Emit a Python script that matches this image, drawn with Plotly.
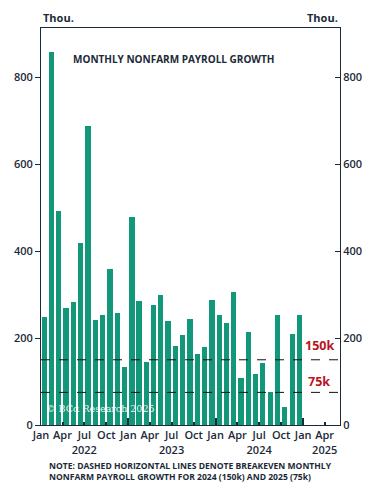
import plotly.graph_objects as go

months = [f"{y}-{m:02d}-01" for y in (2022, 2023, 2024) for m in range(1, 13)]
payrolls = [
    249, 858, 492, 270, 284, 418, 687, 241, 253, 359, 257, 134,   # 2022
    479, 285, 146, 276, 300, 239, 182, 208, 244, 163, 180, 287,   # 2023
    254, 234, 307, 107, 213, 117, 142, 77, 253, 41, 210, 254,     # 2024
]
breakevens = [150, 75]
breakeven_labels = ["150k", "75k"]
tick_dates = [f"{y}-{m:02d}-01" for y in (2022, 2023, 2024, 2025) for m in (1, 4, 7, 10)][:14]
tick_months = ["Jan", "Apr", "Jul", "Oct"] * 3 + ["Jan", "Apr"]
tick_years = ["", "", "2022", "", "", "", "2023", "", "", "", "2024", "", "", "2025"]
y_ticks = [0, 200, 400, 600, 800]

DARK = "#1b2a38"
GREEN = "#12977a"
RED = "#b8141d"
FONT = "Open Sans"
X_RANGE = ["2022-01-01", "2025-06-04"]
Y_RANGE = [0, 913]
MONTH_MS = 30.44 * 86400000

fig = go.Figure()
fig.add_trace(go.Bar(
    x=months, y=payrolls, xperiod="M1", xperiodalignment="middle",
    width=[0.72 * MONTH_MS] * len(months),
    marker=dict(color=GREEN, line=dict(width=0)), showlegend=False,
    hoverinfo="x+y",
))
# helper invisible traces so overlay axes are drawn
fig.add_trace(go.Scatter(x=[months[0]], y=[0], yaxis="y2", mode="markers",
                         marker=dict(opacity=0), showlegend=False, hoverinfo="skip"))
fig.add_trace(go.Scatter(x=[months[0]], y=[0], xaxis="x2", mode="markers",
                         marker=dict(opacity=0), showlegend=False, hoverinfo="skip"))

for v in breakevens:
    fig.add_shape(type="line", xref="paper", x0=0, x1=1, yref="y", y0=v, y1=v,
                  line=dict(color="#111111", width=1, dash="dash"), layer="above")

ann = []
for v, t, yy in zip(breakevens, breakeven_labels, [183, 101]):
    ann.append(dict(text=f"<b>{t}</b>", xref="paper", x=0.93, xanchor="center",
                    yref="y", y=yy, yanchor="middle", showarrow=False,
                    font=dict(family=FONT, size=12.5, color=RED)))
ann.append(dict(text="<b>MONTHLY NONFARM PAYROLL GROWTH</b>", xref="paper", x=0.1,
                xanchor="left", yref="paper", y=0.922, yanchor="middle", showarrow=False,
                font=dict(family=FONT, size=10, color=DARK)))
ann.append(dict(text="<b>Thou.</b>", xref="paper", x=0, xanchor="left", yref="paper",
                y=1.027, yanchor="middle", showarrow=False,
                font=dict(family=FONT, size=11, color=DARK)))
ann.append(dict(text="<b>Thou.</b>", xref="paper", x=1, xanchor="right", yref="paper",
                y=1.027, yanchor="middle", showarrow=False,
                font=dict(family=FONT, size=11, color=DARK)))
ann.append(dict(text="© BCα Research 2025", xref="paper", x=0.198, xanchor="center",
                yref="y", y=39, yanchor="middle", showarrow=False,
                font=dict(family="DejaVu Serif", size=9.5, color="rgba(255,255,255,0.92)")))
ann.append(dict(text="<b>NOTE: DASHED HORIZONTAL LINES DENOTE BREAKEVEN MONTHLY<br>"
                     "NONFARM PAYROLL GROWTH FOR 2024 (150k) AND 2025 (75k)</b>",
                xref="paper", x=0.019, xanchor="left", yref="paper", y=-0.118,
                yanchor="middle", align="left", showarrow=False,
                font=dict(family=FONT, size=8.55, color=DARK)))

axis_font = dict(family=FONT, size=11, color=DARK, weight=600)
fig.update_layout(
    width=372, height=490,
    margin=dict(l=33.3, r=40, t=20, b=73, autoexpand=False),
    paper_bgcolor="white", plot_bgcolor="white",
    bargap=0,
    xaxis=dict(type="date", range=X_RANGE, tickvals=tick_dates,
               ticktext=[f"{m}<br>{y}" if y else m for m, y in zip(tick_months, tick_years)],
               ticks="inside", ticklen=3, tickwidth=1.5,
               tickcolor=DARK, showline=True, linecolor=DARK, linewidth=1,
               mirror=True, showgrid=False, zeroline=False, tickfont=axis_font,
               ticklabelstandoff=0, automargin=False, tickangle=0),
    xaxis2=dict(type="date", range=X_RANGE, overlaying="x", tick0="2022-01-01",
                dtick="M12", ticks="inside", ticklen=7, tickwidth=1.5,
                tickcolor=DARK, showticklabels=False, showline=False,
                showgrid=False, zeroline=False, automargin=False),
    yaxis=dict(range=Y_RANGE, tickvals=y_ticks, ticks="outside", ticklen=5,
               tickcolor=DARK, showline=True, linecolor=DARK, linewidth=1,
               showgrid=False, zeroline=False, tickfont=axis_font, automargin=False),
    yaxis2=dict(range=Y_RANGE, overlaying="y", side="right", tickvals=y_ticks,
                ticks="inside", ticklen=5, tickcolor=DARK, showline=True,
                linecolor=DARK, linewidth=1, showgrid=False, zeroline=False,
                tickfont=axis_font, automargin=False),
    annotations=ann,
)
fig.write_html("out.html")
